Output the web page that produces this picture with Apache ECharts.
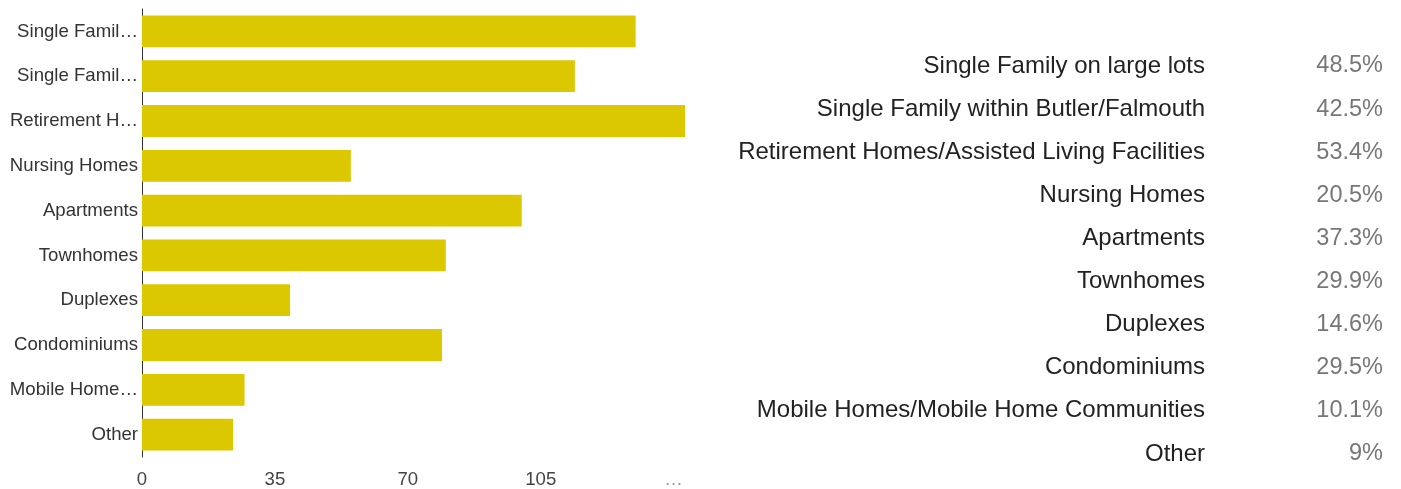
<!DOCTYPE html>
<html>
<head>
<meta charset="utf-8">
<script src="https://cdn.jsdelivr.net/npm/echarts@6/dist/echarts.min.js"></script>
<style>
html,body{margin:0;padding:0;background:#fff;}
#chart{width:1401px;height:489px;}
</style>
</head>
<body>
<div id="chart"></div>
<script>
const categories = [
  'Single Family on large lots',
  'Single Family within Butler/Falmouth',
  'Retirement Homes/Assisted Living Facilities',
  'Nursing Homes',
  'Apartments',
  'Townhomes',
  'Duplexes',
  'Condominiums',
  'Mobile Homes/Mobile Home Communities',
  'Other'
];
const axisLabels = [
  'Single Famil…',
  'Single Famil…',
  'Retirement H…',
  'Nursing Homes',
  'Apartments',
  'Townhomes',
  'Duplexes',
  'Condominiums',
  'Mobile Home…',
  'Other'
];
const counts = [130, 114, 143, 55, 100, 80, 39, 79, 27, 24];
const percents = [48.5, 42.5, 53.4, 20.5, 37.3, 29.9, 14.6, 29.5, 10.1, 9];
const xTickValues = [0, 35, 70, 105, 140];
const xTickLabels = ['0', '35', '70', '105', '…'];

const FONT = '"Liberation Sans", Arial, sans-serif';
const chart = echarts.init(document.getElementById('chart'), null, {renderer: 'canvas'});

const rowTop = 67, rowStep = 43.1;
const graphics = [];
categories.forEach((c, i) => {
  graphics.push({
    type: 'text', right: 1401 - 1205, top: rowTop + i * rowStep - 13,
    style: {text: c, font: '24px ' + FONT, fill: '#222222', textAlign: 'right'}
  });
  graphics.push({
    type: 'text', right: 1401 - 1383, top: rowTop + i * rowStep - 13,
    style: {text: percents[i] + '%', font: '23.5px ' + FONT, fill: '#777777', textAlign: 'right'}
  });
});

chart.setOption({
  animation: false,
  grid: {left: 142, right: 716, top: 9, bottom: 31, containLabel: false},
  xAxis: {
    type: 'value', min: 0, max: 143, interval: 35,
    axisLine: {show: false}, axisTick: {show: false}, splitLine: {show: false},
    axisLabel: {
      showMaxLabel: false, margin: 13, fontFamily: FONT, fontSize: 18.6, color: '#444',
      formatter: v => {
        const k = xTickValues.indexOf(v);
        return k >= 0 ? (k === xTickLabels.length - 1 ? '{d|' + xTickLabels[k] + '}' : xTickLabels[k]) : '';
      },
      rich: {d: {color: '#999', fontFamily: FONT, fontSize: 18.6}}
    }
  },
  yAxis: {
    type: 'category', inverse: true, data: categories,
    axisLine: {show: true, lineStyle: {color: '#333', width: 1}},
    axisTick: {show: false},
    axisLabel: {
      margin: 4, fontFamily: FONT, fontSize: 18.6, color: '#333',
      formatter: (v, i) => axisLabels[i]
    }
  },
  series: [{
    type: 'bar', data: counts, barCategoryGap: '29%',
    itemStyle: {color: '#dcc800'}, clip: false
  }],
  graphic: graphics
});
</script>
</body>
</html>
